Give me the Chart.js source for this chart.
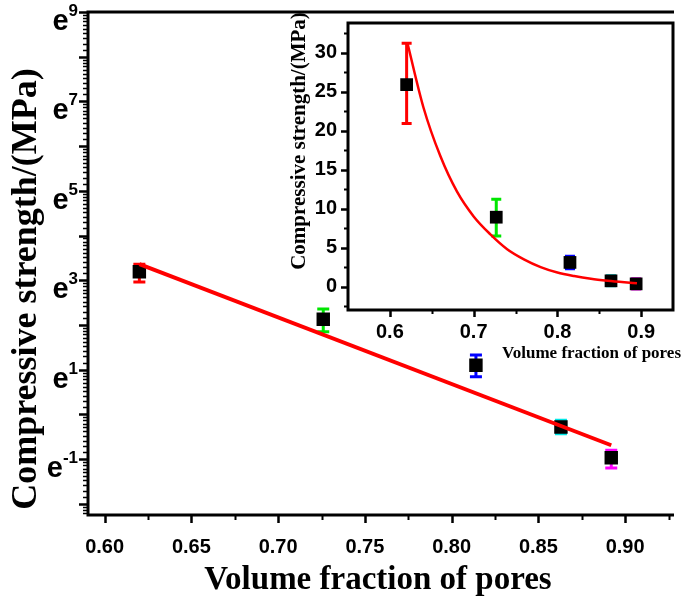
<!DOCTYPE html>
<html>
<head>
<meta charset="utf-8">
<script src="https://cdn.jsdelivr.net/npm/chart.js@4"></script>
<style>
  body { margin: 0; background: #fff; }
  #wrap { position: relative; width: 682px; height: 599px; overflow: hidden; }
  #mainBox { position: absolute; left: 0; top: 0; width: 682px; height: 599px; }
  #insetBox { position: absolute; left: 285px; top: 0; width: 397px; height: 370px; }
</style>
</head>
<body>
<div id="wrap">
  <div id="mainBox"><canvas id="mainChart"></canvas></div>
  <div id="insetBox"><canvas id="insetChart"></canvas></div>
</div>
<script>
// main plot: ln(strength) against pore fraction
const poreFraction = [0.62, 0.726, 0.814, 0.863, 0.892];
const lnStrength = [3.19, 2.13, 1.10, -0.28, -0.97];
const lnErrLow = [2.96, 1.85, 0.84, -0.43, -1.20];
const lnErrHigh = [3.36, 2.36, 1.33, -0.13, -0.80];
const lnFitX = [0.62, 0.892];
const lnFitY = [3.36, -0.69];
const mainYLabels = [-1, 1, 3, 5, 7, 9];

// inset: strength in MPa
const insetFraction = [0.62, 0.727, 0.815, 0.864, 0.894];
const strength = [25.9, 8.9, 3.1, 0.74, 0.35];
const strengthLow = [20.9, 6.5, 2.3, 0.1, -0.3];
const strengthHigh = [31.2, 11.2, 3.9, 1.4, 1.0];
const curveX = [0.621, 0.64, 0.66, 0.68, 0.70, 0.72, 0.74, 0.76, 0.78, 0.80, 0.82, 0.84, 0.86, 0.88, 0.895];
const curveY = [31.2, 23.0, 16.8, 12.2, 9.0, 6.7, 4.8, 3.5, 2.5, 1.8, 1.35, 1.0, 0.75, 0.55, 0.42];

const barColors = ['#ff0000', '#00e600', '#0000ff', '#00e6e6', '#ff00ff'];
const tickFont = 'bold 20px "Liberation Sans", Arial, sans-serif';
const titleFamily = '"Liberation Serif", "Times New Roman", serif';

function pts(xs, ys) {
    return xs.map((x, i) => ({ x: x, y: ys[i] }));
}

function drawErrorBars(chart, xs, lo, hi, cap) {
    const ctx = chart.ctx, xS = chart.scales.x, yS = chart.scales.y;
    ctx.save();
    ctx.lineWidth = 3;
    xs.forEach((x, i) => {
        const px = xS.getPixelForValue(x);
        const y1 = yS.getPixelForValue(lo[i]);
        const y2 = yS.getPixelForValue(hi[i]);
        ctx.strokeStyle = barColors[i];
        ctx.beginPath();
        ctx.moveTo(px, y1); ctx.lineTo(px, y2);
        ctx.moveTo(px - cap, y1); ctx.lineTo(px + cap, y1);
        ctx.moveTo(px - cap, y2); ctx.lineTo(px + cap, y2);
        ctx.stroke();
    });
    ctx.restore();
}

function drawTicks(chart, axis, values, len, width) {
    const ctx = chart.ctx, s = chart.scales[axis], a = chart.chartArea;
    ctx.save();
    ctx.strokeStyle = '#000';
    ctx.lineWidth = width;
    ctx.beginPath();
    values.forEach(v => {
        const p = Math.round(s.getPixelForValue(v)) + 0.5;
        if (axis === 'x') { ctx.moveTo(p, a.bottom); ctx.lineTo(p, a.bottom + len); }
        else { ctx.moveTo(a.left, p); ctx.lineTo(a.left - len, p); }
    });
    ctx.stroke();
    ctx.restore();
}

function drawFrame(chart, sides) {
    const ctx = chart.ctx, a = chart.chartArea;
    ctx.save();
    ctx.strokeStyle = '#000';
    ctx.lineWidth = 3;
    ctx.lineCap = 'square';
    ctx.beginPath();
    if (sides.includes('l')) { ctx.moveTo(a.left, a.top); ctx.lineTo(a.left, a.bottom); }
    if (sides.includes('b')) { ctx.moveTo(a.left, a.bottom); ctx.lineTo(a.right, a.bottom); }
    if (sides.includes('t')) { ctx.moveTo(a.left, a.top); ctx.lineTo(a.right, a.top); }
    if (sides.includes('r')) { ctx.moveTo(a.right, a.top); ctx.lineTo(a.right, a.bottom); }
    ctx.stroke();
    ctx.restore();
}

function drawText(ctx, text, x, y, font, rotate, align) {
    ctx.save();
    ctx.translate(x, y);
    if (rotate) ctx.rotate(-Math.PI / 2);
    ctx.font = font;
    ctx.fillStyle = '#000';
    ctx.textAlign = align || 'center';
    ctx.textBaseline = 'middle';
    ctx.fillText(text, 0, 0);
    ctx.restore();
}

// ---------- main chart ----------
const mainDecor = {
    id: 'mainDecor',
    beforeDatasetsDraw(chart) {
        drawErrorBars(chart, poreFraction, lnErrLow, lnErrHigh, 6);
    },
    afterDraw(chart) {
        const ctx = chart.ctx, yS = chart.scales.y;
        drawFrame(chart, 'lbt');
        // x ticks
        const xMajor = [], xMinor = [];
        for (let i = 0; i <= 6; i++) xMajor.push(0.60 + i * 0.05);
        for (let i = 0; i <= 6; i++) xMinor.push(0.625 + i * 0.05);
        drawTicks(chart, 'x', xMajor, 8, 2.5);
        drawTicks(chart, 'x', xMinor, 5, 2);
        // y ticks (natural log axis)
        const yMajor = [], yMinor = [];
        for (let n = -2; n <= 9; n++) yMajor.push(n);
        for (let n = -3; n <= 8; n++) {
            for (let k = 1; k <= 9; k++) {
                const v = n + Math.log(1 + k * (Math.E - 1) / 10);
                if (v > -2.25 && v < 9) yMinor.push(v);
            }
        }
        drawTicks(chart, 'y', yMajor, 9, 2.5);
        drawTicks(chart, 'y', yMinor, 5, 1.5);
        // e^n labels
        mainYLabels.forEach(n => {
            const py = yS.getPixelForValue(n);
            const sup = String(n).replace('-', '-');
            ctx.save();
            ctx.fillStyle = '#000';
            ctx.textBaseline = 'alphabetic';
            ctx.font = 'bold 17px "Liberation Sans", Arial, sans-serif';
            const supW = ctx.measureText(sup).width;
            ctx.textAlign = 'right';
            ctx.fillText(sup, 78, py + 4);
            ctx.font = 'bold 29px "Liberation Sans", Arial, sans-serif';
            ctx.fillText('e', 78 - supW, py + 18);
            ctx.restore();
        });
        drawText(ctx, 'Volume fraction of pores', 378, 580, 'bold 33px ' + titleFamily);
        drawText(ctx, 'Compressive strength/(MPa)', 27, 289, 'bold 36px ' + titleFamily, true);
    }
};

new Chart(document.getElementById('mainChart'), {
    type: 'scatter',
    data: {
        datasets: [
            {
                label: 'fit',
                type: 'line',
                data: pts(lnFitX, lnFitY),
                borderColor: '#ff0000',
                borderWidth: 4,
                pointRadius: 0,
                order: 0
            },
            {
                label: 'ln strength',
                data: pts(poreFraction, lnStrength),
                pointStyle: 'rect',
                pointRadius: 9.5,
                backgroundColor: '#000',
                borderWidth: 0,
                order: 1
            }
        ]
    },
    options: {
        responsive: true,
        maintainAspectRatio: false,
        animation: false,
        layout: { padding: { top: 12, left: 0, right: 0, bottom: 0 } },
        plugins: { legend: { display: false }, tooltip: { enabled: false } },
        scales: {
            x: {
                type: 'linear',
                min: 0.5904,
                max: 0.9273,
                grid: { display: false, drawTicks: false },
                border: { display: false },
                afterFit(scale) { scale.height = 84; },
                ticks: {
                    stepSize: 0.05,
                    includeBounds: false,
                    padding: 20,
                    color: '#000',
                    font: { family: '"Liberation Sans", Arial, sans-serif', size: 20, weight: 'bold' },
                    callback: v => v.toFixed(2)
                }
            },
            y: {
                type: 'linear',
                min: -2.25,
                max: 9,
                grid: { display: false, drawTicks: false },
                border: { display: false },
                afterFit(scale) { scale.width = 88; },
                ticks: { display: false, stepSize: 1 }
            }
        }
    },
    plugins: [mainDecor]
});

// ---------- inset ----------
const insetDecor = {
    id: 'insetDecor',
    beforeDraw(chart) {
        const a = chart.chartArea, ctx = chart.ctx;
        ctx.save();
        ctx.fillStyle = '#fff';
        ctx.fillRect(a.left, a.top, a.right - a.left, a.bottom - a.top);
        ctx.restore();
    },
    beforeDatasetsDraw(chart) {
        drawErrorBars(chart, insetFraction, strengthLow, strengthHigh, 5);
    },
    afterDraw(chart) {
        const ctx = chart.ctx;
        drawFrame(chart, 'lbtr');
        drawTicks(chart, 'x', [0.6, 0.7, 0.8, 0.9], 7, 2.5);
        drawTicks(chart, 'x', [0.65, 0.75, 0.85], 4, 2);
        const yMajor = [], yMinor = [];
        for (let v = 0; v <= 30; v += 5) yMajor.push(v);
        for (let v = -2.5; v <= 32.5; v += 5) yMinor.push(v);
        drawTicks(chart, 'y', yMajor, 7, 2.5);
        drawTicks(chart, 'y', yMinor, 4, 2);
        drawText(ctx, 'Volume fraction of pores', 396, 354, 'bold 17px ' + titleFamily, false, 'right');
        drawText(ctx, 'Compressive strength/(MPa)', 15, 141, 'bold 21px ' + titleFamily, true);
    }
};

new Chart(document.getElementById('insetChart'), {
    type: 'scatter',
    data: {
        datasets: [
            {
                label: 'exp fit',
                type: 'line',
                data: pts(curveX, curveY),
                borderColor: '#ff0000',
                borderWidth: 2.5,
                pointRadius: 0,
                cubicInterpolationMode: 'monotone',
                order: 0
            },
            {
                label: 'strength',
                data: pts(insetFraction, strength),
                pointStyle: 'rect',
                pointRadius: 9,
                backgroundColor: '#000',
                borderWidth: 0,
                order: 1
            }
        ]
    },
    options: {
        responsive: true,
        maintainAspectRatio: false,
        animation: false,
        layout: { padding: { top: 12, left: 0, right: 5, bottom: 0 } },
        plugins: { legend: { display: false }, tooltip: { enabled: false } },
        scales: {
            x: {
                type: 'linear',
                min: 0.55,
                max: 0.938,
                grid: { display: false, drawTicks: false },
                border: { display: false },
                afterFit(scale) { scale.height = 60; },
                ticks: {
                    stepSize: 0.1,
                    includeBounds: false,
                    padding: 10,
                    color: '#000',
                    font: { family: '"Liberation Sans", Arial, sans-serif', size: 20, weight: 'bold' },
                    callback: v => v.toFixed(1)
                }
            },
            y: {
                type: 'linear',
                min: -3,
                max: 33.8,
                grid: { display: false, drawTicks: false },
                border: { display: false },
                afterFit(scale) { scale.width = 63; },
                ticks: {
                    stepSize: 5,
                    includeBounds: false,
                    padding: 11,
                    color: '#000',
                    font: { family: '"Liberation Sans", Arial, sans-serif', size: 20, weight: 'bold' }
                }
            }
        }
    },
    plugins: [insetDecor]
});
</script>
</body>
</html>
